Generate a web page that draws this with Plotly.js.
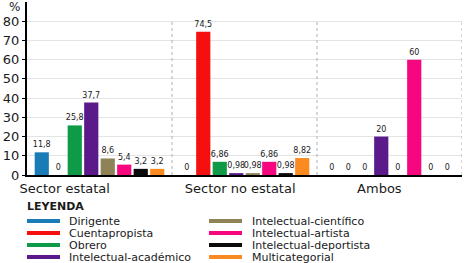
<!DOCTYPE html>
<html>
<head>
<meta charset="utf-8">
<script src="https://cdn.plot.ly/plotly-3.0.1.min.js"></script>
<style>html,body{margin:0;padding:0;background:#fff;}#chart{width:464px;height:263px;}</style>
</head>
<body>
<div id="chart"></div>
<script>
// Data
var sectors = ["Sector estatal", "Sector no estatal", "Ambos"];
var seriesNames = ["Dirigente", "Cuentapropista", "Obrero", "Intelectual-académico",
                   "Intelectual-científico", "Intelectual-artista", "Intelectual-deportista", "Multicategorial"];
var dirigente = [11.8, 0, 0];
var cuentapropista = [0, 74.5, 0];
var obrero = [25.8, 6.86, 0];
var academico = [37.7, 0.98, 20];
var cientifico = [8.6, 0.98, 0];
var artista = [5.4, 6.86, 60];
var deportista = [3.2, 0.98, 0];
var multicategorial = [3.2, 8.82, 0];
var yTicks = [0, 10, 20, 30, 40, 50, 60, 70, 80];

var seriesValues = [dirigente, cuentapropista, obrero, academico, cientifico, artista, deportista, multicategorial];
var colors = ["#1a7cb6", "#f50f0f", "#0f9a48", "#5b1a8a", "#8e8257", "#f7077f", "#0a0a0a", "#fb8a20"];

var W = 464, H = 263, mL = 27, mR = 2, mT = 2, mB = 88;
var pw = W - mL - mR, ph = H - mT - mB;
function px(x) { return (x - mL) / pw; }
function py(y) { return (H - mB - y) / ph; }

var font = "DejaVu Sans, Verdana, sans-serif";
var xs = sectors.map(function (s, i) { return i; });

var traces = seriesValues.map(function (vals, i) {
  return {
    type: "bar",
    name: seriesNames[i],
    x: xs,
    y: vals,
    text: vals.map(function (v) { return String(v).replace(".", ","); }),
    textposition: "outside",
    constraintext: "none",
    cliponaxis: false,
    textfont: { family: font, size: 8, color: "#1a1a1a" },
    marker: { color: colors[i], line: { width: 0 } },
    showlegend: false,
    hoverinfo: "skip"
  };
});

var shapes = [];
[0.5, 1.5, 2.5].forEach(function (xv) {
  shapes.push({ type: "line", xref: "x", yref: "y", x0: xv, x1: xv, y0: 0, y1: 80,
    line: { color: "#b0b0b0", width: 1, dash: "dot" } });
});

var annotations = [{
  text: "%", xref: "paper", yref: "paper", x: px(22), y: py(7), xanchor: "right", yanchor: "middle",
  showarrow: false, font: { family: font, size: 12, color: "#1a1a1a" }
}, {
  text: "<b>LEYENDA</b>", xref: "paper", yref: "paper", x: px(25), y: py(207), xanchor: "left", yanchor: "middle",
  showarrow: false, font: { family: font, size: 11, color: "#1a1a1a" }
}];

var rowY = [221, 233, 245, 257];
seriesNames.forEach(function (name, i) {
  var col = Math.floor(i / 4), row = i % 4;
  var sx0 = col === 0 ? 27 : 209, sx1 = sx0 + 33, tx = col === 0 ? 67 : 250;
  var yy = rowY[row];
  shapes.push({ type: "rect", xref: "paper", yref: "paper", x0: px(sx0), x1: px(sx1),
    y0: py(yy + 2), y1: py(yy - 2), fillcolor: colors[i], line: { width: 0 } });
  annotations.push({ text: name, xref: "paper", yref: "paper", x: px(tx), y: py(yy),
    xanchor: "left", yanchor: "middle", showarrow: false,
    font: { family: font, size: 11, color: "#1a1a1a" } });
});

var layout = {
  width: W, height: H,
  margin: { l: mL, r: mR, t: mT, b: mB, pad: 0 },
  paper_bgcolor: "#fff", plot_bgcolor: "#fff",
  barmode: "group", bargap: 0.09, bargroupgap: 0.14,
  showlegend: false,
  font: { family: font, size: 12, color: "#1a1a1a" },
  xaxis: {
    range: [-0.5, 2.5], fixedrange: true,
    tickmode: "array", tickvals: [-0.24, 0.97, 1.93], ticktext: sectors,
    ticks: "", showgrid: false, zeroline: false,
    showline: true, linecolor: "#000", linewidth: 2,
    tickfont: { family: font, size: 13, color: "#1a1a1a" }
  },
  yaxis: {
    range: [0, 90], fixedrange: true,
    tickmode: "array", tickvals: yTicks, ticktext: yTicks.map(String),
    ticks: "outside", ticklen: 3, tickcolor: "#000", tickwidth: 1,
    showgrid: true, gridcolor: "#e4e4e4", gridwidth: 1, zeroline: false,
    showline: true, linecolor: "#000", linewidth: 2,
    tickfont: { family: font, size: 13, color: "#1a1a1a" }
  },
  shapes: shapes,
  annotations: annotations
};

Plotly.newPlot("chart", traces, layout, { staticPlot: true, displayModeBar: false });
</script>
</body>
</html>
